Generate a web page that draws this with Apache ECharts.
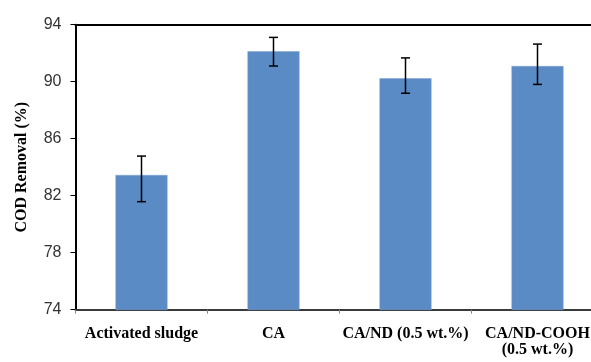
<!DOCTYPE html>
<html>
<head>
<meta charset="utf-8">
<script src="https://cdn.jsdelivr.net/npm/echarts@6/dist/echarts.min.js"></script>
<style>
html,body{margin:0;padding:0;overflow:hidden;background:#fff;width:591px;height:362px;}
#c{width:625px;height:362px;}
</style>
</head>
<body>
<div id="c"></div>
<script>
const categories = ['Activated sludge', 'CA', 'CA/ND (0.5 wt.%)', 'CA/ND-COOH\n(0.5 wt.%)'];
const values = [83.45, 92.13, 90.24, 91.1];
const errorsUp = [1.33, 0.98, 1.43, 1.54];
const errorsDown = [1.87, 1.03, 1.05, 1.29];
const yTicks = [74, 78, 82, 86, 90, 94];

const chart = echarts.init(document.getElementById('c'), null, {renderer: 'canvas'});
const serif = '"Liberation Serif", "Times New Roman", serif';
const errData = values.map((v, i) => [i, v - errorsDown[i], v + errorsUp[i]]);

chart.setOption({
  animation: false,
  grid: {left: 75.5, top: 24.7, right: 625 - 603.5, bottom: 362 - 309.7, containLabel: false},
  xAxis: [{
    type: 'category',
    data: categories,
    axisLine: {lineStyle: {color: '#3a3a3a', width: 2}},
    axisTick: {show: true, alignWithLabel: false, length: 4, lineStyle: {color: '#888', width: 1}},
    axisLabel: {interval: 0, margin: 16, color: '#000', fontFamily: serif, fontWeight: 'bold', fontSize: 16, lineHeight: 16}
  }, {
    type: 'category',
    position: 'top',
    data: categories,
    axisLine: {show: true, lineStyle: {color: '#000', width: 2}},
    axisTick: {show: false},
    axisLabel: {show: false}
  }],
  yAxis: {
    type: 'value',
    min: yTicks[0],
    max: yTicks[yTicks.length - 1],
    interval: 4,
    name: 'COD Removal (%)',
    nameLocation: 'middle',
    nameGap: 46,
    nameTextStyle: {fontFamily: serif, fontWeight: 'bold', fontSize: 16, color: '#000'},
    axisLine: {show: true, lineStyle: {color: '#000', width: 2}},
    axisTick: {show: true, length: 5, lineStyle: {color: '#000', width: 1}},
    splitLine: {show: false},
    axisLabel: {margin: 14, color: '#333', fontFamily: '"Liberation Sans", Arial, sans-serif', fontSize: 16}
  },
  series: [{
    type: 'bar',
    data: values,
    barWidth: 52,
    itemStyle: {color: '#5b8bc5', borderColor: '#7aa2d2', borderWidth: 0.5}
  }, {
    type: 'custom',
    data: errData,
    z: 10,
    renderItem: function (params, api) {
      const x = api.value(0);
      const lo = api.coord([x, api.value(1)]);
      const hi = api.coord([x, api.value(2)]);
      const hw = 4.5;
      const st = {stroke: '#000', lineWidth: 1.5};
      return {
        type: 'group',
        children: [
          {type: 'line', shape: {x1: lo[0], y1: lo[1], x2: hi[0], y2: hi[1]}, style: st},
          {type: 'line', shape: {x1: lo[0] - hw, y1: lo[1], x2: lo[0] + hw, y2: lo[1]}, style: st},
          {type: 'line', shape: {x1: hi[0] - hw, y1: hi[1], x2: hi[0] + hw, y2: hi[1]}, style: st}
        ]
      };
    }
  }]
});
</script>
</body>
</html>
